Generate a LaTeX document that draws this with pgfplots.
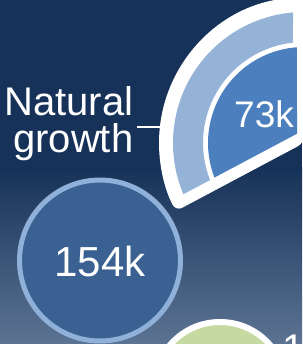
\documentclass[border=0pt]{standalone}
\usepackage{pgfplots}
\pgfplotsset{compat=1.18}
\usepackage{fontspec}
\setmainfont{Liberation Sans}
\definecolor{navy}{HTML}{173258}
\definecolor{slate}{HTML}{5C7393}
\definecolor{ringblue}{HTML}{94B3D7}
\definecolor{midblue}{HTML}{4B7FBD}
\definecolor{circblue}{HTML}{3A6191}
\definecolor{circedge}{HTML}{8FB0D8}
\definecolor{sage}{HTML}{C6D9A0}
\begin{document}
\begin{tikzpicture}
\begin{axis}[scale only axis, x=1pt, y=1pt,
  xmin=0, xmax=302, ymin=0, ymax=344,
  hide axis, clip=true, clip marker paths=true]
% background
\fill[navy] (axis cs:0,0) rectangle (axis cs:302,344);
\shade[bottom color=slate, top color=navy] (axis cs:0,0) rectangle (axis cs:302,176);
% 154k circle
\addplot[only marks, mark=*, mark size=80.5pt,
  mark options={fill=circblue, draw=circedge, line width=5pt}]
  coordinates {(100,83.5)};
% green circle (partly visible, centre below the frame)
\draw[fill=sage, draw=white, line width=6pt] (axis cs:220,-44) circle[radius=66pt];
% connector line
\addplot[white, line width=1.4pt] coordinates {(137,217) (166,217)};
% sector
\begin{scope}[shift={(axis cs:304,201)}]
\fill[white, rounded corners=7pt] (0pt,0pt) -- (90:145pt)
  arc[start angle=90, end angle=208, radius=145pt] -- cycle;
\fill[ringblue] (94.8:131pt) arc[start angle=94.8, end angle=203.0, radius=131pt]
  -- (201.5:101pt) arc[start angle=201.5, end angle=96.3, radius=101pt] -- cycle;
\fill[midblue] (-7pt,9.3pt) -- (94.2:96pt)
  arc[start angle=94.2, end angle=201.1, radius=96pt] -- cycle;
\end{scope}
% labels
\node[anchor=base east, inner sep=0, text=white, font=\fontsize{40pt}{40pt}\selectfont] at (axis cs:133.5,228) {Natural};
\node[anchor=base east, inner sep=0, text=white, font=\fontsize{40pt}{40pt}\selectfont] at (axis cs:133.5,191) {growth};
\node[anchor=base, inner sep=0, text=white, font=\fontsize{37pt}{37pt}\selectfont] at (axis cs:264,216) {73k};
\node[anchor=base, inner sep=0, text=white, font=\fontsize{42pt}{42pt}\selectfont] at (axis cs:100,67) {154k};
\node[anchor=base west, inner sep=0, text=white, font=\fontsize{40pt}{40pt}\selectfont] at (axis cs:282,-18) {1};
\end{axis}
\pgfresetboundingbox
\path[use as bounding box] (0,0) rectangle (302pt,344pt);
\end{tikzpicture}
\end{document}
